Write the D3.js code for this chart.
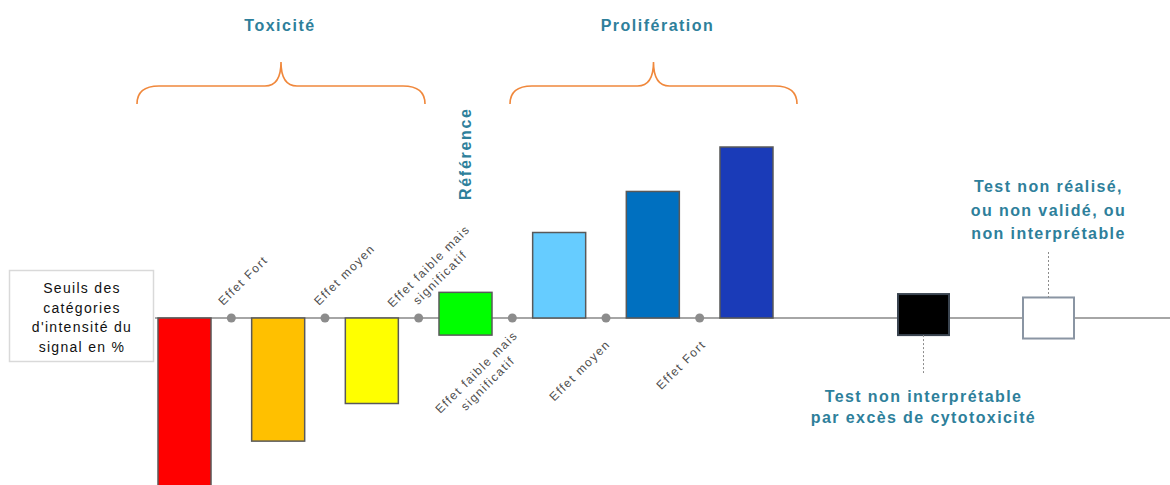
<!DOCTYPE html>
<html>
<head>
<meta charset="utf-8">
<script src="https://cdn.jsdelivr.net/npm/d3@7/dist/d3.min.js"></script>
<style>
  html, body { margin: 0; padding: 0; background: #fff; }
  svg { display: block; font-family: "Liberation Sans", Arial, sans-serif; }
</style>
</head>
<body>
<svg id="chart" width="1170" height="485"></svg>
<script>
// Signal intensity categories: toxicity (below the line), reference, proliferation (above)
const categories = ["toxFort", "toxMoyen", "toxFaible", "reference", "proFaible", "proMoyen", "proFort"];
const barStart = [0, 0, 0, -10, 0, 0, 0];
const barEnd   = [-100, -72, -50, 15, 50, 74, 100];
const barColors = ["#ff0000", "#ffc000", "#ffff00", "#00ff00", "#66ccff", "#0070c0", "#1a3bb8"];

// Threshold labels sitting on the dots between bars
const upperThresholds = [["Effet Fort"], ["Effet moyen"], ["Effet faible mais", "significatif"]];
const lowerThresholds = [["Effet faible mais", "significatif"], ["Effet moyen"], ["Effet Fort"]];

// Status squares to the right
const statusKeys  = ["cytotox", "nonRealise"];
const statusLow   = [-10, -12];
const statusHigh  = [14, 12];
const statusFill  = ["#000000", "#ffffff"];
const statusText  = [
  ["Test non interprétable", "par excès de cytotoxicité"],
  ["Test non réalisé,", "ou non validé, ou", "non interprétable"]
];

const groupTitles = ["Toxicité", "Prolifération"];
const boxLines = ["Seuils des", "catégories", "d'intensité du", "signal en %"];

const teal = "#2e7f9b";
const svg = d3.select("#chart");

const y = d3.scaleLinear().domain([-100, 100]).range([489, 147]);
const x = d3.scaleBand().domain(categories).range([158, 773]).paddingInner(0.434).paddingOuter(0);
const bw = x.bandwidth();
const xs = d3.scalePoint().domain(statusKeys).range([923.5, 1048.5]);
const sw = 51;
const y0 = y(0);

// Baseline
svg.append("line")
  .attr("x1", 155).attr("x2", 1170).attr("y1", y0).attr("y2", y0)
  .attr("stroke", "#a6a6a6").attr("stroke-width", 2);

// Legend box
svg.append("rect")
  .attr("x", 9.5).attr("y", 270.5).attr("width", 144).attr("height", 91)
  .attr("fill", "#fff").attr("stroke", "#d9d9d9").attr("stroke-width", 1.5);
svg.append("g").selectAll("text").data(boxLines).join("text")
  .attr("x", 82).attr("y", (d, i) => 293 + i * 19.7)
  .attr("text-anchor", "middle")
  .attr("font-size", 14).attr("letter-spacing", 1.3)
  .attr("fill", "#111")
  .text(d => d);

// Bars
svg.append("g").selectAll("rect").data(categories).join("rect")
  .attr("x", d => x(d))
  .attr("width", bw)
  .attr("y", (d, i) => y(Math.max(barStart[i], barEnd[i])))
  .attr("height", (d, i) => Math.abs(y(barStart[i]) - y(barEnd[i])))
  .attr("fill", (d, i) => barColors[i])
  .attr("stroke", "#595959").attr("stroke-width", 1.5);

// Threshold dots between consecutive bars
const step = x.step();
const dotX = d3.range(categories.length - 1).map(i => x(categories[i]) + bw + (step - bw) / 2);
svg.append("g").selectAll("circle").data(dotX).join("circle")
  .attr("cx", d => d).attr("cy", y0).attr("r", 4.5)
  .attr("fill", "#8c8c8c");

// Rotated threshold labels
function rotatedLabel(lines, tx, ty, anchor) {
  const g = svg.append("g").attr("transform", `translate(${tx},${ty}) rotate(-45)`);
  g.selectAll("text").data(lines).join("text")
    .attr("x", 0).attr("y", (d, i) => i * 16)
    .attr("text-anchor", anchor)
    .attr("font-size", 12).attr("letter-spacing", 1.5)
    .attr("fill", "#4d4d4d")
    .text(d => d);
}
// Toxicity thresholds (above the line)
rotatedLabel(upperThresholds[0], dotX[0] - 8, 306, "start");
rotatedLabel(upperThresholds[1], dotX[1] - 6, 306, "start");
rotatedLabel(upperThresholds[2], dotX[2] + 13, 269, "middle");
// Proliferation thresholds (below the line)
rotatedLabel(lowerThresholds[0], dotX[3] - 33, 375, "middle");
rotatedLabel(lowerThresholds[1], dotX[4] + 5, 345, "end");
rotatedLabel(lowerThresholds[2], dotX[5] + 7, 345, "end");

// Reference label
const refX = x("reference") + bw / 2 - 1;
svg.append("text")
  .attr("transform", `translate(${refX + 6},200) rotate(-90)`)
  .attr("font-size", 16).attr("font-weight", "bold").attr("letter-spacing", 1.7)
  .attr("fill", teal)
  .text("Référence");

// Group titles and braces
const groups = [
  { title: groupTitles[0], x0: 137, x1: 425, dx: -1 },
  { title: groupTitles[1], x0: 510, x1: 797, dx: 4 }
];
function bracePath(x0, x1, yEnd, yFlat, yPeak) {
  const xm = (x0 + x1) / 2, r = 22, r2 = 16;
  return `M${x0},${yEnd} Q${x0},${yFlat} ${x0 + r},${yFlat} L${xm - r2},${yFlat} ` +
         `Q${xm},${yFlat} ${xm},${yPeak} Q${xm},${yFlat} ${xm + r2},${yFlat} ` +
         `L${x1 - r},${yFlat} Q${x1},${yFlat} ${x1},${yEnd}`;
}
groups.forEach(g => {
  svg.append("path")
    .attr("d", bracePath(g.x0, g.x1, 104, 86, 62))
    .attr("fill", "none").attr("stroke", "#f0883c").attr("stroke-width", 1.6);
  svg.append("text")
    .attr("x", (g.x0 + g.x1) / 2 + g.dx).attr("y", 31)
    .attr("text-anchor", "middle")
    .attr("font-size", 16).attr("font-weight", "bold").attr("letter-spacing", 1.5)
    .attr("fill", teal)
    .text(g.title);
});

// Status squares
svg.append("g").selectAll("rect").data(statusKeys).join("rect")
  .attr("x", d => xs(d) - sw / 2)
  .attr("width", sw)
  .attr("y", (d, i) => y(statusHigh[i]))
  .attr("height", (d, i) => y(statusLow[i]) - y(statusHigh[i]))
  .attr("fill", (d, i) => statusFill[i])
  .attr("stroke", (d, i) => i === 0 ? "#3a4450" : "#8a95a3")
  .attr("stroke-width", 2);

// Dotted leaders to the status notes
svg.append("line")
  .attr("x1", xs("cytotox")).attr("x2", xs("cytotox"))
  .attr("y1", y(statusLow[0])).attr("y2", 373)
  .attr("stroke", "#8c8c8c").attr("stroke-width", 1).attr("stroke-dasharray", "2,2");
svg.append("line")
  .attr("x1", xs("nonRealise")).attr("x2", xs("nonRealise"))
  .attr("y1", 252).attr("y2", y(statusHigh[1]))
  .attr("stroke", "#8c8c8c").attr("stroke-width", 1).attr("stroke-dasharray", "2,2");

// Status notes
svg.append("g").selectAll("text").data(statusText[0]).join("text")
  .attr("x", xs("cytotox")).attr("y", (d, i) => 402 + i * 21)
  .attr("text-anchor", "middle")
  .attr("font-size", 16).attr("font-weight", "bold").attr("letter-spacing", 1.4)
  .attr("fill", teal)
  .text(d => d);
svg.append("g").selectAll("text").data(statusText[1]).join("text")
  .attr("x", xs("nonRealise")).attr("y", (d, i) => 192 + i * 23.5)
  .attr("text-anchor", "middle")
  .attr("font-size", 16).attr("font-weight", "bold").attr("letter-spacing", 1.4)
  .attr("fill", teal)
  .text(d => d);
</script>
</body>
</html>
